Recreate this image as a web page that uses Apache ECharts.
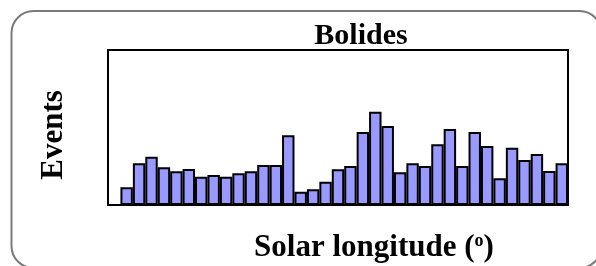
<!DOCTYPE html>
<html>
<head>
<meta charset="utf-8">
<script src="https://cdn.jsdelivr.net/npm/echarts@6/dist/echarts.min.js"></script>
<style>
  html, body { margin: 0; padding: 0; background: #fff; }
  #chart { width: 596px; height: 266px; }
</style>
</head>
<body>
<div id="chart"></div>
<script>
// bolides per solar-longitude bin (first bin empty)
const bins = [];
for (let i = 0; i < 37; i++) bins.push(String(i));
const events = [null, 17.7, 41.7, 48.3, 37.7, 33.7, 36, 28.3, 30, 28.3, 31.7, 33.7, 40, 40, 69.7,
  13.3, 15.7, 23.3, 35.7, 39, 73, 93.3, 79, 32.7, 41.7, 39, 60.7, 76, 39, 73, 59, 26.7,
  57.3, 45, 51, 34, 41.7];

const serif = "'Liberation Serif', 'Times New Roman', serif";

const chart = echarts.init(document.getElementById('chart'));
const option = {
  animation: false,
  title: {
    text: 'Bolides',
    left: 356,
    top: 16,
    textAlign: 'center',
    textStyle: { fontFamily: serif, fontWeight: 'bold', fontSize: 30, color: '#000' }
  },
  graphic: [{
    type: 'rect',
    shape: { x: 11.5, y: 11, width: 590, height: 257, r: 22 },
    style: { fill: 'none', stroke: '#7a7a7a', lineWidth: 2 },
    silent: true
  }],
  grid: {
    left: 108, top: 50, right: 28, bottom: 61,
    outerBoundsMode: 'none',
    containLabel: false,
    show: true, borderColor: '#000', borderWidth: 2
  },
  xAxis: {
    type: 'category',
    data: bins,
    name: '{a|Solar longitude (}{s|o}{a|)}',
    nameLocation: 'middle',
    nameGap: 27,
    nameTextStyle: {
      padding: [0, 0, 0, 72],
      rich: {
        a: { fontFamily: serif, fontWeight: 'bold', fontSize: 31, color: '#000' },
        s: { fontFamily: serif, fontWeight: 'bold', fontSize: 18, color: '#000', padding: [0, 0, 12, 0] }
      }
    },
    axisLine: { show: true, lineStyle: { color: '#000', width: 2 } },
    axisTick: { show: false },
    axisLabel: { show: false }
  },
  yAxis: {
    type: 'value',
    min: 0,
    max: 155,
    name: 'Events',
    nameLocation: 'middle',
    nameRotate: 90,
    nameGap: 39,
    nameTextStyle: { fontFamily: serif, fontWeight: 'bold', fontSize: 31, color: '#000', padding: [0, 15, 0, 0] },
    axisLine: { show: false },
    axisTick: { show: false },
    axisLabel: { show: false },
    splitLine: { show: false }
  },
  series: [{
    type: 'bar',
    data: events,
    barCategoryGap: 0,
    itemStyle: { color: '#9999ff', borderColor: '#000', borderWidth: 2 }
  }]
};
chart.setOption(option);
</script>
</body>
</html>
